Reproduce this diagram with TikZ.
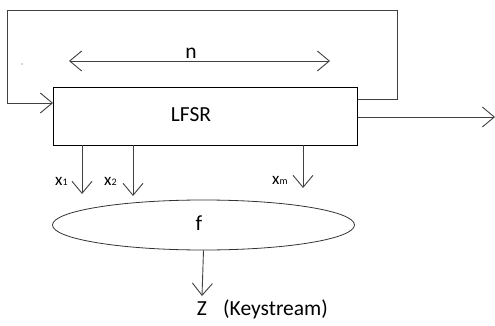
\documentclass[tikz,border=0pt]{standalone}
\usepackage{fontspec}
\setmainfont{Carlito}
\usetikzlibrary{arrows.meta,shapes.geometric}
\tikzset{
  wire/.style={draw=black!75, line width=0.9pt},
  arr/.style={wire, -{Straight Barb[length=12pt,width=20pt,line width=0.9pt]}},
  darr/.style={wire, {Straight Barb[length=12pt,width=20pt,line width=0.9pt]}-{Straight Barb[length=12pt,width=20pt,line width=0.9pt]}},
  big/.style={font=\fontsize{21.5}{26}\selectfont, inner sep=0pt, anchor=base},
  small/.style={font=\fontsize{21.5}{26}\selectfont, inner sep=0pt, anchor=base west},
  sub/.style={font=\fontsize{17}{20}\selectfont, inner sep=0pt, anchor=base west},
}
\newcommand{\subsm}[1]{{\fontsize{10}{11}\selectfont #1}}
\begin{document}
\begin{tikzpicture}[x=1pt,y=-1pt]
\useasboundingbox (0,0) rectangle (495,326);
% LFSR box
\node[draw=black, line width=0.9pt, minimum width=304.5pt, minimum height=58pt, inner sep=0pt] (lfsr) at (205.25,116) {};
\node[big] (lfsrtxt) at (191,122) {LFSR};
% feedback loop
\coordinate (fbout) at (357.5,99);
\coordinate (fbin) at (53,103);
\draw[arr] (fbout) -- (397,99) -- (397,10.5) -- (7,10.5) -- (7,103) -- (fbin);
% output
\coordinate (outR) at (357.5,117);
\coordinate (outEnd) at (495,117);
\draw[arr] (outR) -- (outEnd);
% n arrow
\coordinate (nL) at (69,61);
\coordinate (nR) at (330,61);
\draw[darr] (nL) -- (nR);
\node[big] (nlab) at (191,59) {n};
% stray dot
\fill[black!70] (22,64) circle (0.7pt);
% function f
\node[draw=black!80, line width=0.8pt, ellipse, minimum width=302pt, minimum height=50pt, inner sep=0pt] (f) at (203.5,225) {};
\node[big] (flab) at (199,230) {f};
% taps
\coordinate (t1) at (82,145);
\coordinate (t1e) at (82,194);
\coordinate (t2) at (133,145);
\coordinate (t2e) at (133,196);
\coordinate (tm) at (303,145);
\coordinate (tme) at (303,188);
\draw[arr] (t1) -- (t1e);
\draw[arr] (t2) -- (t2e);
\draw[arr] (tm) -- (tme);
\node[sub] (x1) at (55,185) {x\subsm{1}};
\node[sub] (x2) at (104,185) {x\subsm{2}};
\node[sub] (xm) at (272,184) {x\subsm{m}};
% output Z
\coordinate (zs) at (202,296);
\draw[arr] (f.south) -- (zs);
\node[big] (z) at (202,315) {Z};
\node[small] (ks) at (223,315) {(Keystream)};
\end{tikzpicture}
\end{document}
